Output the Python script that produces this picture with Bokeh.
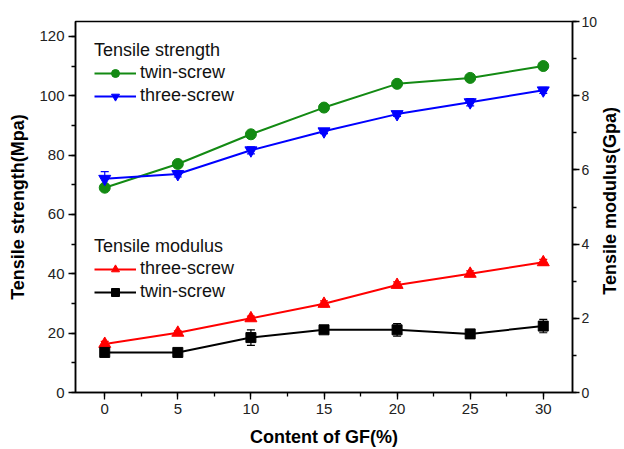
import math
from bokeh.plotting import figure
from bokeh.layouts import row
from bokeh.models import (Range1d, LinearAxis, SingleIntervalTicker, Legend, LegendItem,
                          ColumnDataSource, Whisker, TeeHead)
from bokeh.core.properties import value
from bokeh.embed import file_html
from bokeh.resources import INLINE

gf = [0, 5, 10, 15, 20, 25, 30]
strength_twin = [69, 77, 87, 96, 104, 106, 110]
strength_twin_err = [0.6, 0.6, 0.6, 0.6, 0.6, 0.6, 0.6]
strength_three = [72, 73.6, 81.6, 88, 93.8, 97.8, 101.8]
strength_three_err = [2.4, 1.0, 1.2, 0.8, 0.8, 1.2, 1.0]
modulus_three = [1.31, 1.61, 2.0, 2.39, 2.9, 3.2, 3.51]
modulus_three_err = [0.07, 0.05, 0.06, 0.08, 0.08, 0.08, 0.08]
modulus_twin = [1.08, 1.08, 1.48, 1.69, 1.69, 1.58, 1.79]
modulus_twin_err = [0.05, 0.05, 0.21, 0.06, 0.17, 0.05, 0.18]
right_title = "Tensile modulus(Gpa)"

FONT = "Liberation Sans"
GREEN = "#138a13"
BLUE = "#0000ff"
RED = "#ff0000"
BLACK = "#000000"

p = figure(width=600, height=449, output_backend="svg", toolbar_location=None,
           x_range=Range1d(-2, 32), y_range=Range1d(0, 125),
           min_border_left=75, min_border_right=25, min_border_top=21, min_border_bottom=57)
p.extra_y_ranges = {"mod": Range1d(0, 10)}
p.grid.visible = False
p.outline_line_color = BLACK
p.outline_line_width = 1.5
p.background_fill_color = "white"
p.border_fill_color = "white"

def style_axis(ax):
    ax.axis_line_width = 1.5
    ax.axis_line_color = BLACK
    ax.major_tick_in = 0
    ax.major_tick_out = 7
    ax.minor_tick_in = 0
    ax.minor_tick_out = 4
    ax.major_tick_line_width = 1.3
    ax.minor_tick_line_width = 1.3
    ax.major_label_text_font = FONT
    ax.major_label_text_font_size = "15px"
    ax.major_label_text_color = "#222222"
    ax.axis_label_text_font = FONT
    ax.axis_label_text_font_size = "18px"
    ax.axis_label_text_font_style = "bold"
    ax.axis_label_text_color = BLACK
    ax.major_label_standoff = 4

p.xaxis.ticker = SingleIntervalTicker(interval=5, num_minor_ticks=2)
p.yaxis.ticker = SingleIntervalTicker(interval=20, num_minor_ticks=2)
p.xaxis.axis_label = "Content of GF(%)"
p.yaxis.axis_label = "Tensile strength(Mpa)"
style_axis(p.xaxis[0])
style_axis(p.yaxis[0])
p.xaxis.axis_label_standoff = 10
p.yaxis.axis_label_standoff = 8

rax = LinearAxis(y_range_name="mod", ticker=SingleIntervalTicker(interval=2, num_minor_ticks=2))
style_axis(rax)
rax.major_label_standoff = 2
rax.major_label_text_font_size = "14px"
p.add_layout(rax, "right")

def series(y, err, color, marker, size, yname="default"):
    src = ColumnDataSource(dict(x=gf, y=y, lo=[a - b for a, b in zip(y, err)],
                                hi=[a + b for a, b in zip(y, err)]))
    w = Whisker(base="x", lower="lo", upper="hi", source=src, line_color=color, line_width=1.2,
                upper_head=TeeHead(size=8, line_color=color, line_width=1.2),
                lower_head=TeeHead(size=8, line_color=color, line_width=1.2),
                y_range_name=yname)
    p.add_layout(w)
    ln = p.line("x", "y", source=src, line_color=color, line_width=2, y_range_name=yname)
    sc = p.scatter("x", "y", source=src, marker=marker, size=size, fill_color=color,
                   line_color=color, y_range_name=yname)
    return [ln, sc]

r_st_twin = series(strength_twin, strength_twin_err, GREEN, "circle", 11)
r_st_three = series(strength_three, strength_three_err, BLUE, "inverted_triangle", 12)
r_mo_three = series(modulus_three, modulus_three_err, RED, "triangle", 12, "mod")
r_mo_twin = series(modulus_twin, modulus_twin_err, BLACK, "square", 10, "mod")

def make_legend(title, items, loc):
    lg = Legend(items=items, location=loc, title=title,
                title_text_font=FONT, title_text_font_size="18px", title_text_font_style="normal",
                title_text_color="#111111", title_standoff=1,
                label_text_font=FONT, label_text_font_size="18px", label_text_color="#111111",
                glyph_width=42, glyph_height=20, label_height=20, spacing=2, padding=0, margin=0,
                label_standoff=4, border_line_color=None, background_fill_alpha=0)
    p.add_layout(lg, "center")

make_legend("Tensile strength",
            [LegendItem(label="twin-screw", renderers=r_st_twin),
             LegendItem(label="three-screw", renderers=r_st_three)], (19, 286))
make_legend("Tensile modulus",
            [LegendItem(label="three-screw", renderers=r_mo_three),
             LegendItem(label="twin-screw", renderers=r_mo_twin)], (19, 90))

# narrow strip on the right holding the right-axis title (reads bottom-to-top)
p2 = figure(width=24, height=449, output_backend="svg", toolbar_location=None,
            x_range=Range1d(0, 24), y_range=Range1d(0, 449),
            min_border_left=0, min_border_right=0, min_border_top=0, min_border_bottom=0)
p2.axis.visible = False
p2.grid.visible = False
p2.outline_line_color = None
p2.background_fill_color = "white"
p2.border_fill_color = "white"
p2.text(x=[9], y=[232], text=[right_title], angle=math.pi / 2, text_align="center",
        text_baseline="middle", text_font=value(FONT), text_font_size="18px",
        text_font_style="bold", text_color=BLACK)

layout = row(p, p2, spacing=0)
open("out.html", "w").write(file_html(layout, INLINE))
